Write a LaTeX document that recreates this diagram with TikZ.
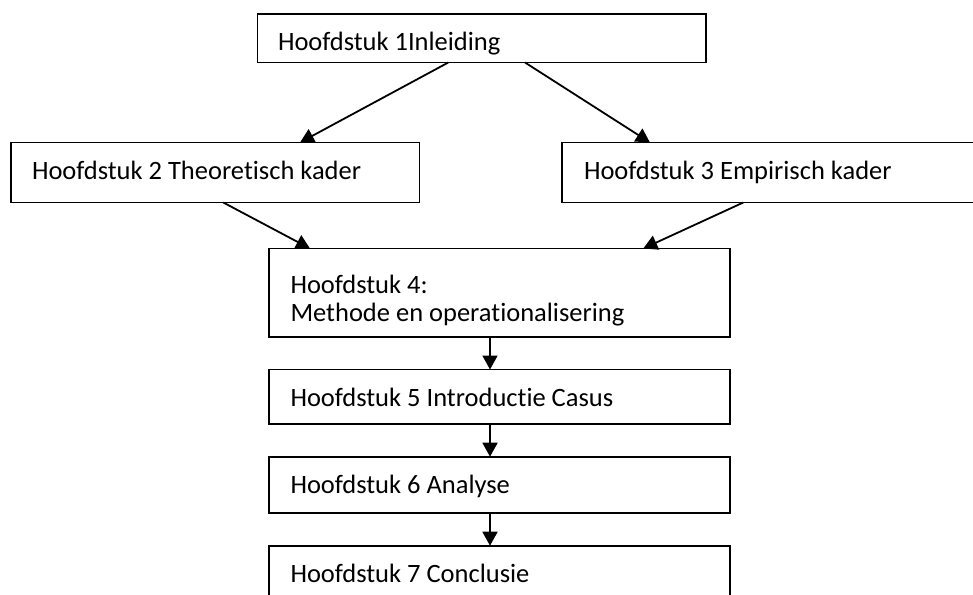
\documentclass[tikz,border=0pt]{standalone}
\usepackage{fontspec}
\setmainfont{Carlito}[Ligatures=NoCommon]
\usetikzlibrary{arrows.meta}
\tikzset{
  box/.style={draw=black, line width=1.8pt, inner sep=0pt, outer sep=0pt, anchor=north west, fill=white},
  lbl/.style={inner sep=0pt, outer sep=0pt, anchor=base west, font=\fontsize{26.5}{28}\selectfont},
  conn/.style={draw=black, line width=1.8pt, -{Triangle[length=14pt,width=15pt]}}
}
\begin{document}
\begin{tikzpicture}[x=1pt,y=-1pt]
\clip (0,0) rectangle (973,594);
\fill[white] (0,0) rectangle (973,594);
% boxes
\node[box, minimum width=448.5pt, minimum height=48.5pt] (b1) at (257.5,14) {};
\node[box, minimum width=408.5pt, minimum height=60pt] (b2) at (11,142.5) {};
\node[box, minimum width=440pt, minimum height=60pt] (b3) at (562,142.5) {};
\node[box, minimum width=461pt, minimum height=88.3pt] (b4) at (269,248.5) {};
\node[box, minimum width=461pt, minimum height=54.3pt] (b5) at (269,369.5) {};
\node[box, minimum width=461pt, minimum height=56pt] (b6) at (269,456.7) {};
\node[box, minimum width=461pt, minimum height=80pt] (b7) at (269,545.7) {};
% texts
\node[lbl] (t1) at (278,50) {Hoofdstuk 1Inleiding};
\node[lbl] (t2) at (32,179.3) {Hoofdstuk 2 Theoretisch kader};
\node[lbl] (t3) at (584,179.3) {Hoofdstuk 3 Empirisch kader};
\node[lbl, align=left] (t4) at (290.5,321) {Hoofdstuk 4:\\Methode en operationalisering};
\node[lbl] (t5) at (290.5,406.7) {Hoofdstuk 5 Introductie Casus};
\node[lbl] (t6) at (290.5,493) {Hoofdstuk 6 Analyse};
\node[lbl] (t7) at (290.5,582) {Hoofdstuk 7 Conclusie};
% connectors
\draw[conn] ([xshift=190.8pt]b1.south west) -- ([xshift=289pt]b2.north west);
\draw[conn] ([xshift=267.5pt]b1.south west) -- ([xshift=88pt]b3.north west);
\draw[conn] ([xshift=212.3pt]b2.south west) -- ([xshift=41pt]b4.north west);
\draw[conn] ([xshift=181.3pt]b3.south west) -- ([xshift=374.3pt]b4.north west);
\draw[conn] ([xshift=221pt]b4.south west) -- ([xshift=221pt]b5.north west);
\draw[conn] ([xshift=221pt]b5.south west) -- ([xshift=221pt]b6.north west);
\draw[conn] ([xshift=221pt]b6.south west) -- ([xshift=221pt]b7.north west);
\end{tikzpicture}
\end{document}
